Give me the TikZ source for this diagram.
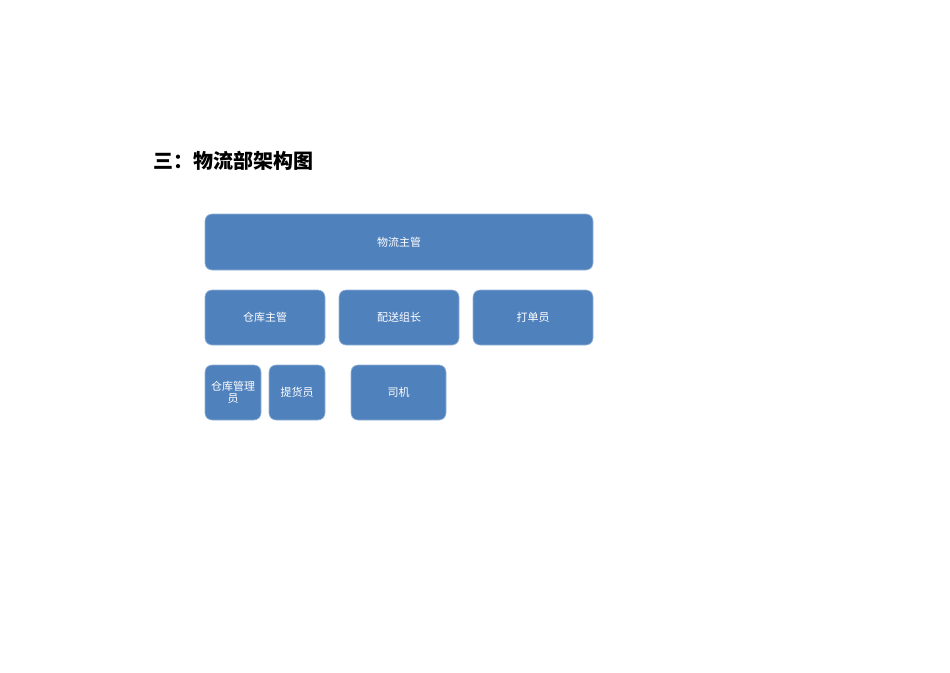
\documentclass[tikz,border=0pt]{standalone}
\usepackage{fontspec}
\newfontfamily\cjk{Noto Sans CJK SC}
\definecolor{boxblue}{HTML}{4F81BD}
\begin{document}
\begin{tikzpicture}[x=1pt, y=-1pt, line join=round, line cap=round]
            \tikzset{every node/.style={font=\cjk}}
            \tikzset{orgbox/.style={fill=boxblue, draw=boxblue!60!white, line width=0.6pt, rounded corners=7pt, text=white, font=\cjk\fontsize{11}{12.5}\selectfont, align=center, inner sep=1pt}}
            \useasboundingbox (0,0) rectangle (950,672);
            \node[anchor=west, inner sep=0pt, font=\cjk\bfseries\fontsize{20}{22}\selectfont] (title) at (153,161) {三：物流部架构图};
            % top row
            \node[orgbox, minimum width=388pt, minimum height=56pt] (head) at (399,242) {物流主管};
            % second row
            \node[orgbox, minimum width=120pt, minimum height=55pt] (store) at (265,317.5) {仓库主管};
            \node[orgbox, minimum width=120pt, minimum height=55pt] (deliver) at (399,317.5) {配送组长};
            \node[orgbox, minimum width=120pt, minimum height=55pt] (print) at (533,317.5) {打单员};
            % third row
            \node[orgbox, minimum width=56pt, minimum height=55pt] (keeper) at (233,392.5) {仓库管理\\员};
            \node[orgbox, minimum width=56pt, minimum height=55pt] (pick) at (297,392.5) {提货员};
            \node[orgbox, minimum width=95pt, minimum height=55pt] (driver) at (398.5,392.5) {司机};
        \end{tikzpicture}
\end{document}
